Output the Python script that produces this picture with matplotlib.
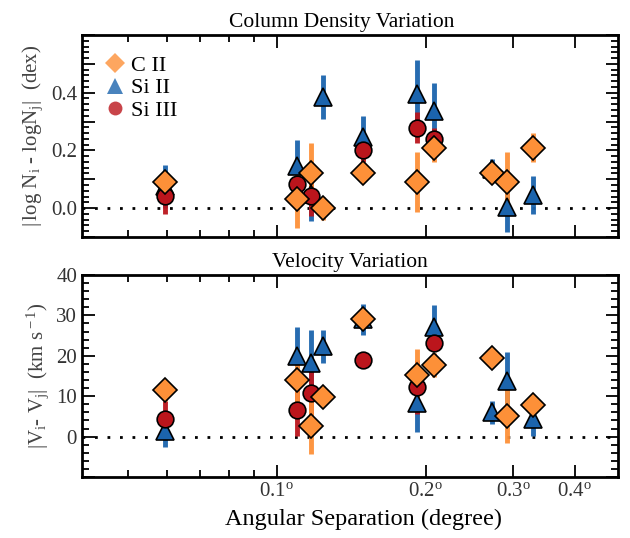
import numpy as np
import matplotlib
matplotlib.use("Agg")
import matplotlib.pyplot as plt
from matplotlib.ticker import MultipleLocator, FixedLocator, NullFormatter, FuncFormatter

plt.rcParams['font.family'] = ['Liberation Serif', 'DejaVu Serif']
plt.rcParams['mathtext.fontset'] = 'custom'
plt.rcParams['mathtext.rm'] = 'Liberation Serif'
plt.rcParams['mathtext.it'] = 'Liberation Serif'

# angular separation (degree) for each species
x_c2 = [0.0594, 0.110, 0.117, 0.124, 0.149, 0.192, 0.208, 0.272, 0.292, 0.330]
x_si2 = [0.0594, 0.110, 0.117, 0.124, 0.149, 0.192, 0.208, 0.272, 0.292, 0.330]
x_si3 = [0.0594, 0.110, 0.117, 0.149, 0.192, 0.208]

# column density variation (dex)
dn_c2 = [0.090, 0.030, 0.121, 0.000, 0.121, 0.090, 0.210, 0.121, 0.090, 0.210]
dn_c2_err = [0.03, 0.10, 0.105, 0.04, 0.02, 0.104, 0.05, 0.03, 0.104, 0.05]
dn_si2 = [0.075, 0.147, 0.050, 0.385, 0.245, 0.394, 0.337, 0.135, 0.003, 0.047]
dn_si2_err = [0.075, 0.09, 0.095, 0.077, 0.075, 0.12, 0.095, 0.035, 0.086, 0.066]
dn_si3 = [0.041, 0.082, 0.041, 0.201, 0.279, 0.239]
dn_si3_err = [0.063, 0.05, 0.07, 0.04, 0.055, 0.04]

# velocity variation (km/s)
dv_c2 = [11.5, 14.0, 2.6, 9.9, 29.2, 15.2, 17.7, 19.4, 5.2, 7.8]
dv_c2_err = [2.6, 6.0, 6.8, 1.5, 1.5, 6.6, 3.0, 1.0, 6.8, 1.0]
dv_si2 = [1.5, 19.9, 18.3, 22.3, 29.0, 8.4, 27.1, 6.0, 13.7, 4.4]
dv_si2_err = [4.0, 7.3, 8.0, 4.0, 3.8, 7.2, 5.4, 2.8, 7.2, 4.2]
dv_si3 = [4.4, 6.7, 10.8, 18.9, 12.2, 23.2]
dv_si3_err = [4.4, 6.5, 6.0, 1.5, 6.7, 2.0]

c_orange = '#fd9038'
c_blue = '#1b64ad'
c_red = '#bb151c'

fig = plt.figure(figsize=(6.3, 5.38), dpi=100)
ax1 = fig.add_axes([0.130, 0.5595, 0.851, 0.3755])
ax2 = fig.add_axes([0.130, 0.1134, 0.851, 0.3755])


def draw(ax, ysi2, esi2, ysi3, esi3, yc2, ec2):
    ax.errorbar(x_si2, ysi2, yerr=esi2, fmt='none', ecolor=c_blue, elinewidth=3.5, capsize=0, alpha=0.95, zorder=2)
    ax.errorbar(x_si3, ysi3, yerr=esi3, fmt='none', ecolor=c_red, elinewidth=3.5, capsize=0, alpha=0.95, zorder=2)
    ax.errorbar(x_c2, yc2, yerr=ec2, fmt='none', ecolor=c_orange, elinewidth=3.5, capsize=0, alpha=0.95, zorder=2)
    ax.plot(x_si2, ysi2, '^', ms=13, color=c_blue, mec='k', mew=1.2, ls='none', zorder=3)
    ax.plot(x_si3, ysi3, 'o', ms=12, color=c_red, mec='k', mew=1.2, ls='none', zorder=4)
    ax.plot(x_c2, yc2, 'D', ms=12, color=c_orange, mec='k', mew=1.2, ls='none', zorder=5)
    ax.axhline(0, color='k', ls=(0, (1, 3.5)), lw=2, zorder=1)
    ax.set_xscale('log')
    ax.set_xlim(0.0404, 0.489)
    ax.xaxis.set_major_locator(FixedLocator([0.1, 0.2, 0.3, 0.4]))
    ax.xaxis.set_minor_locator(FixedLocator([0.05, 0.06, 0.07, 0.08, 0.09]))
    ax.xaxis.set_minor_formatter(NullFormatter())
    ax.tick_params(which='both', direction='in', top=True, right=True, labelsize=15, width=1.3)
    ax.tick_params(which='major', length=9)
    ax.tick_params(which='minor', length=5)
    for s in ax.spines.values():
        s.set_linewidth(2)


draw(ax1, dn_si2, dn_si2_err, dn_si3, dn_si3_err, dn_c2, dn_c2_err)
draw(ax2, dv_si2, dv_si2_err, dv_si3, dv_si3_err, dv_c2, dv_c2_err)

ax1.set_ylim(-0.1, 0.6)
ax1.yaxis.set_major_locator(MultipleLocator(0.1))
ax1.yaxis.set_minor_locator(MultipleLocator(0.02))
ax1.yaxis.set_major_formatter(FuncFormatter(lambda v, p: '%.1f' % v if abs(round(v * 10)) % 2 == 0 and -0.05 < v < 0.45 else ''))
ax1.xaxis.set_major_formatter(NullFormatter())
ax1.set_title('Column Density Variation', fontsize=15.5, pad=6, x=0.485)
ax1.set_ylabel(r'$|\,$log N$_{\rm i}$ - logN$_{\rm j}|$  (dex)', fontsize=15, color='#444444')

ax2.set_ylim(-10, 40)
ax2.yaxis.set_major_locator(MultipleLocator(10))
ax2.yaxis.set_minor_locator(MultipleLocator(2))
ax2.yaxis.set_major_formatter(FuncFormatter(lambda v, p: '%d' % v if v > -5 else ''))
ax2.xaxis.set_major_formatter(FuncFormatter(lambda v, p: r'%.1f$^{\rm o}$' % v))
ax2.set_title('Velocity Variation', fontsize=15.5, pad=6, x=0.5)
ax2.set_ylabel(r'$|$V$_{\rm i}$- V$_{\rm j}|$  (km s$^{\rm -1}$)', fontsize=15, color='#444444')
ax2.set_xlabel('Angular Separation (degree)', fontsize=17.5, x=0.525, labelpad=6)

# legend with plain markers
h1 = ax1.plot([], [], 'D', ms=10, color=c_orange, alpha=0.8, mew=0, label='C II')[0]
h2 = ax1.plot([], [], '^', ms=11, color=c_blue, alpha=0.8, mew=0, label='Si II')[0]
h3 = ax1.plot([], [], 'o', ms=10, color=c_red, alpha=0.8, mew=0, label='Si III')[0]
ax1.legend(handles=[h1, h2, h3], loc='upper left', frameon=False, fontsize=16,
           handletextpad=0.1, labelspacing=0.1, borderaxespad=0.5, handlelength=1.2)

for ax in (ax1, ax2):
    for lab in ax.get_xticklabels() + ax.get_yticklabels():
        lab.set_color('#333333')

fig.savefig('out.png', dpi=100)
